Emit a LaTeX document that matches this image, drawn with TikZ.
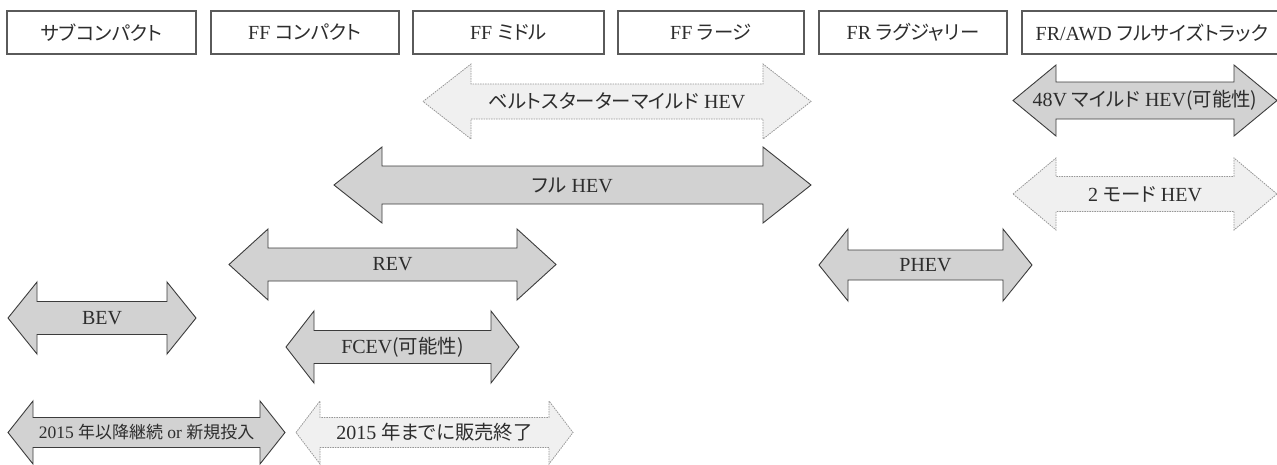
\documentclass[tikz,border=0pt]{standalone}
\usepackage{fontspec}
\setmainfont{Liberation Serif}
\newfontfamily\cjk{Noto Sans CJK JP}[Scale=0.97,RawFeature=+palt]
\definecolor{darkfill}{RGB}{210,210,210}
\definecolor{lightfill}{RGB}{240,240,240}
\definecolor{darkline}{RGB}{60,60,60}
\definecolor{lightline}{RGB}{150,150,150}
\definecolor{boxline}{RGB}{90,90,90}
\definecolor{txt}{RGB}{45,45,45}
\tikzset{
  darkarrow/.style={fill=darkfill,draw=darkline,line width=0.9pt,line join=miter},
  lightarrow/.style={fill=lightfill,draw=lightline,line width=0.8pt,dash pattern=on 1.5pt off 1pt},
  hdrbox/.style={draw=boxline,line width=1.1pt,fill=white},
  lbl/.style={text=txt,font=\fontsize{20}{22}\selectfont,inner sep=0pt},
}
\newcommand\smallrow{\fontsize{17.5}{20}\selectfont}
% #1 style, #2 x1, #3 x2, #4 yc, #5 body half, #6 head half, #7 head length, #8 name, #9 text
\newcommand\dblarr[9]{%
  \draw[#1] (#2,#4) -- ({#2+#7},{#4-#6}) -- ({#2+#7},{#4-#5}) -- ({#3-#7},{#4-#5})
    -- ({#3-#7},{#4-#6}) -- (#3,#4) -- ({#3-#7},{#4+#6}) -- ({#3-#7},{#4+#5})
    -- ({#2+#7},{#4+#5}) -- ({#2+#7},{#4+#6}) -- cycle;
  \node[lbl] (#8) at ({(#2+#3)/2},#4) {#9};
}
\begin{document}
\begin{tikzpicture}[x=1pt,y=-1pt]
\useasboundingbox (0,0) rectangle (1277,464);
\clip (0,0) rectangle (1277,464);
\fill[white] (0,0) rectangle (1277,464);
% header boxes
\draw[hdrbox] (7,11) rectangle (196,54);
\node[lbl] (h1) at (101.5,32.5) {\cjk サブコンパクト};
\draw[hdrbox] (211,11) rectangle (399,54);
\node[lbl] (h2) at (305,32.5) {FF {\cjk コンパクト}};
\draw[hdrbox] (413,11) rectangle (604,54);
\node[lbl] (h3) at (508.5,32.5) {FF {\cjk ミドル}};
\draw[hdrbox] (618,11) rectangle (804,54);
\node[lbl] (h4) at (711,32.5) {FF {\cjk ラージ}};
\draw[hdrbox] (819,11) rectangle (1007,54);
\node[lbl] (h5) at (913,32.5) {FR {\cjk ラグジャリー}};
\draw[hdrbox] (1022,11) rectangle (1300,54);
\node[lbl] (h6) at (1152,32.5) {FR/AWD {\cjk フルサイズトラック}};
% arrows
\dblarr{lightarrow}{423}{811}{101.5}{17.5}{37.5}{48}{belt}{{\cjk ベルトスターターマイルド} HEV}
\dblarr{darkarrow}{1013}{1277}{100.5}{18.5}{35.5}{43}{v48}{48V {\cjk マイルド} HEV{\cjk (可能性)}}
\dblarr{darkarrow}{334}{811}{185}{19}{38}{48}{full}{{\cjk フル} HEV}
\dblarr{lightarrow}{1013}{1277}{194}{17.5}{36}{43}{twomode}{2 {\cjk モード} HEV}
\dblarr{darkarrow}{229}{556}{264.5}{16.5}{35.5}{39}{rev}{REV}
\dblarr{darkarrow}{819}{1032}{265}{15}{36}{29}{phev}{PHEV}
\dblarr{darkarrow}{8}{196}{318}{16.5}{36}{29}{bev}{BEV}
\dblarr{darkarrow}{286}{519}{347}{16.5}{36}{28}{fcev}{FCEV{\cjk (可能性)}}
\dblarr{darkarrow}{8}{285}{432.5}{15}{31.5}{25}{cont}{\smallrow 2015 {\cjk 年以降継続} or {\cjk 新規投入}}
\dblarr{lightarrow}{296}{573}{432.5}{15}{31.5}{24}{endsale}{2015 {\cjk 年までに販売終了}}
\end{tikzpicture}
\end{document}
